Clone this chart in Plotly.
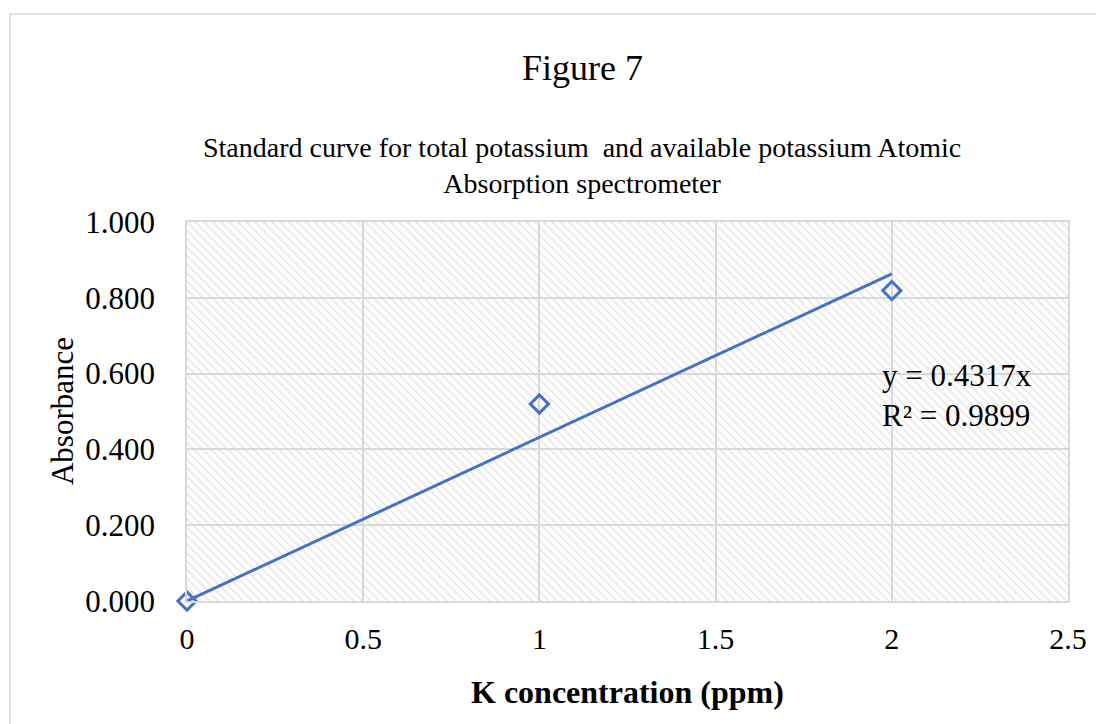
import plotly.graph_objects as go

# Data
conc = [0, 1, 2]                 # K concentration (ppm)
absorb = [0.0, 0.520, 0.819]     # Absorbance
slope = 0.4317                   # trendline y = slope * x
r2 = 0.9899
trend_x = [0, 2]
x_ticks = [0, 0.5, 1, 1.5, 2, 2.5]
x_ticktext = ["0", "0.5", "1", "1.5", "2", "2.5"]
y_ticks = [0.0, 0.2, 0.4, 0.6, 0.8, 1.0]
y_ticktext = ["0.000", "0.200", "0.400", "0.600", "0.800", "1.000"]

x_range = [0, 2.5]
y_range = [0, 1.0]

FONT = "Liberation Serif"
BLUE = "#4472C4"
GRID = "#d9d9d9"

fig = go.Figure()

# hatched plot-area background
fig.add_trace(go.Scatter(
    x=[x_range[0], x_range[1], x_range[1], x_range[0], x_range[0]],
    y=[y_range[0], y_range[0], y_range[1], y_range[1], y_range[0]],
    mode="none", fill="toself", fillcolor="rgba(0,0,0,0)",
    fillpattern=dict(shape="\\", size=6, solidity=0.3,
                     fgcolor="#d2d2d2", bgcolor="rgba(0,0,0,0)"),
    hoverinfo="skip", showlegend=False,
))

# linear trendline through origin
fig.add_trace(go.Scatter(
    x=trend_x, y=[slope * v for v in trend_x], mode="lines",
    line=dict(color=BLUE, width=3), showlegend=False, cliponaxis=False,
))

# data points
fig.add_trace(go.Scatter(
    x=conc, y=absorb, mode="markers",
    marker=dict(symbol="diamond-open", size=14, color=BLUE,
                line=dict(color=BLUE, width=3)),
    showlegend=False, cliponaxis=False,
))

fig.update_layout(
    width=1096, height=716,
    margin=dict(l=179, r=36, t=214, b=123),
    paper_bgcolor="white", plot_bgcolor="white",
    font=dict(family=FONT, color="black"),
    xaxis=dict(range=x_range, tickvals=x_ticks, ticktext=x_ticktext,
               showgrid=True, gridcolor=GRID, gridwidth=1.5,
               zeroline=False, showline=True, linecolor=GRID, linewidth=1.5,
               mirror=True, ticks="", ticklabelstandoff=10,
               tickfont=dict(family=FONT, size=30, color="black"),
               fixedrange=True),
    yaxis=dict(range=y_range, tickvals=y_ticks, ticktext=y_ticktext,
               showgrid=True, gridcolor=GRID, gridwidth=1.5,
               zeroline=False, showline=True, linecolor=GRID, linewidth=1.5,
               mirror=True, ticks="", ticklabelstandoff=24,
               tickfont=dict(family=FONT, size=31, color="black"),
               fixedrange=True),
    annotations=[
        dict(text="Figure 7", xref="paper", yref="paper", x=0.4484, y=1.4063,
             xanchor="center", yanchor="middle", showarrow=False,
             font=dict(family=FONT, size=36, color="black")),
        dict(text="Standard curve for total potassium  and available potassium Atomic<br>Absorption spectrometer",
             xref="paper", yref="paper", x=0.4484, y=1.149,
             xanchor="center", yanchor="middle", showarrow=False,
             font=dict(family=FONT, size=28, color="black")),
        dict(text="K concentration (ppm)", xref="paper", yref="paper",
             x=0.5, y=-0.240, xanchor="center", yanchor="middle",
             showarrow=False,
             font=dict(family=FONT, size=32, color="black", weight="bold")),
        dict(text="Absorbance", xref="paper", yref="paper",
             x=-0.1413, y=0.5, xanchor="center", yanchor="middle",
             textangle=-90, showarrow=False,
             font=dict(family=FONT, size=31, color="black")),
        dict(text=f"y = {slope}x<br>R² = {r2}", xref="x", yref="y",
             x=1.9665, y=0.543, xanchor="left", yanchor="middle",
             align="left", showarrow=False,
             font=dict(family=FONT, size=31, color="black")),
    ],
    shapes=[
        dict(type="rect", xref="paper", yref="paper",
             x0=(10 - 187) / 881, x1=(1125 - 187) / 881,
             y0=(601 - 745) / 379, y1=(601 - 14) / 379,
             line=dict(color=GRID, width=1.5), layer="below"),
    ],
)

fig.write_html("out.html")
